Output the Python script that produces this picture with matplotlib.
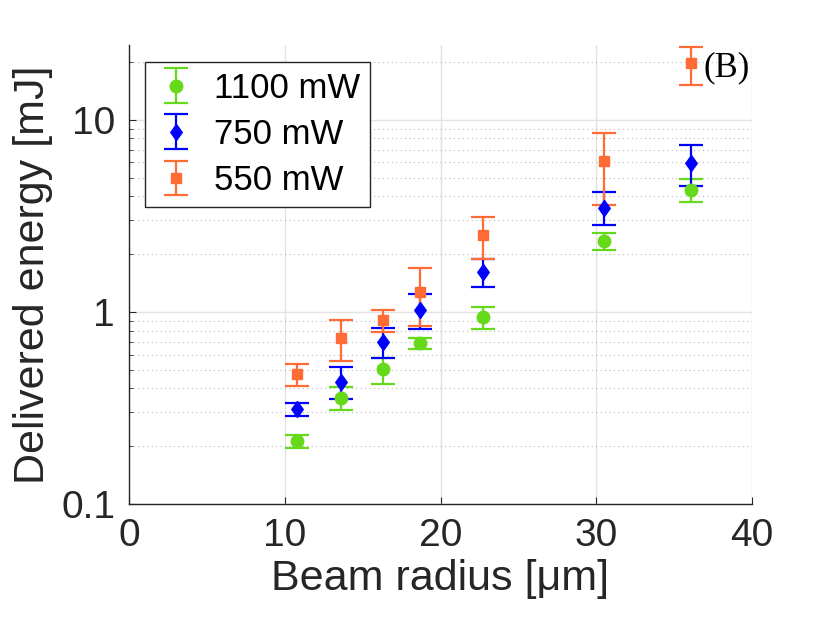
"""Delivered energy vs. beam radius for three laser powers (panel B)."""
import matplotlib
matplotlib.use("Agg")
import matplotlib.pyplot as plt
from matplotlib.ticker import FixedLocator, LogLocator, NullFormatter, FuncFormatter

INK = "#262626"
GRID_MAJOR = "#e3e3e3"
GRID_MINOR = "#b8b8b8"
GREEN = "#66d91a"
BLUE = "#0000ff"
ORANGE = "#ff6b35"

radius = [10.8, 13.6, 16.3, 18.7, 22.7, 30.5, 36.1]

e_1100 = [0.213, 0.356, 0.505, 0.69, 0.94, 2.34, 4.32]
e_1100_hi = [0.230, 0.407, 0.576, 0.73, 1.06, 2.58, 4.93]
e_1100_lo = [0.196, 0.309, 0.420, 0.64, 0.815, 2.10, 3.74]

e_750 = [0.313, 0.432, 0.70, 1.02, 1.62, 3.48, 5.97]
e_750_hi = [0.336, 0.517, 0.825, 1.24, 1.89, 4.20, 7.40]
e_750_lo = [0.287, 0.352, 0.576, 0.815, 1.35, 2.84, 4.53]

e_550 = [0.475, 0.73, 0.91, 1.27, 2.52, 6.1, 19.8]
e_550_hi = [0.536, 0.91, 1.02, 1.69, 3.12, 8.56, 23.9]
e_550_lo = [0.41, 0.556, 0.787, 0.845, 1.89, 3.61, 15.2]

DIAMOND = [(0, 1), (0.72, 0), (0, -1), (-0.72, 0), (0, 1)]


def draw(ax, y, hi, lo, color, marker, ms, label):
    err = [[v - l for v, l in zip(y, lo)], [h - v for v, h in zip(y, hi)]]
    ax.errorbar(radius, y, yerr=err, fmt="", linestyle="none", marker=marker,
                color=color, ecolor=color, mfc=color, mec=color,
                markersize=ms, elinewidth=1.6, capsize=8.5, capthick=1.6,
                label=label, zorder=3)


def main():
    plt.rcParams["font.family"] = ["Liberation Sans", "DejaVu Sans"]
    fig = plt.figure(figsize=(8.3, 6.23), dpi=100, facecolor="white")
    ax = fig.add_axes([129 / 830, 1 - 504 / 623, (752 - 129) / 830, (504 - 45) / 623])

    draw(ax, e_1100, e_1100_hi, e_1100_lo, GREEN, "o", 9, "1100 mW")
    draw(ax, e_750, e_750_hi, e_750_lo, BLUE, DIAMOND, 11.5, "750 mW")
    draw(ax, e_550, e_550_hi, e_550_lo, ORANGE, "s", 7, "550 mW")

    ax.set_yscale("log")
    ax.set_xlim(0, 40)
    ax.set_ylim(0.1, 24.5)
    ax.xaxis.set_major_locator(FixedLocator([0, 10, 20, 30, 40]))
    ax.yaxis.set_major_locator(FixedLocator([0.1, 1, 10]))
    ax.yaxis.set_major_formatter(FuncFormatter(lambda v, p: "%g" % v))
    ax.yaxis.set_minor_locator(LogLocator(base=10, subs=range(2, 10)))
    ax.yaxis.set_minor_formatter(NullFormatter())

    ax.grid(True, which="major", color=GRID_MAJOR, linewidth=1.0, zorder=0)
    ax.grid(True, which="minor", axis="y", color=GRID_MINOR, linewidth=0.8,
            linestyle=(0, (1, 3)), zorder=0)
    ax.set_axisbelow(True)

    for side in ("top", "right"):
        ax.spines[side].set_visible(False)
    for side in ("left", "bottom"):
        ax.spines[side].set_color(INK)
        ax.spines[side].set_linewidth(1.0)
    ax.tick_params(which="both", direction="in", colors=INK, labelsize=28,
                   pad=10)
    ax.tick_params(which="major", length=5)
    ax.tick_params(which="minor", length=3)

    ax.set_xlabel("Beam radius [μm]", fontsize=31, color=INK, labelpad=4)
    ax.set_ylabel("Delivered energy [mJ]", fontsize=31, color=INK, labelpad=6)

    leg = ax.legend(loc="upper left", bbox_to_anchor=(145 / 830, 1 - 62 / 623),
                    bbox_transform=fig.transFigure, borderaxespad=0,
                    fontsize=25, frameon=True, fancybox=False, framealpha=1,
                    edgecolor=INK, handlelength=1.25, handletextpad=0.45,
                    labelspacing=0.38, borderpad=0.28)
    leg.get_frame().set_linewidth(1.0)

    ax.text(38.4, 18.7, "(B)", fontsize=25, family=["Liberation Serif"],
            color="black", ha="center", va="center", zorder=4, clip_on=False)

    fig.savefig("out.png", dpi=100, facecolor="white")
    plt.close(fig)


if __name__ == "__main__":
    main()
